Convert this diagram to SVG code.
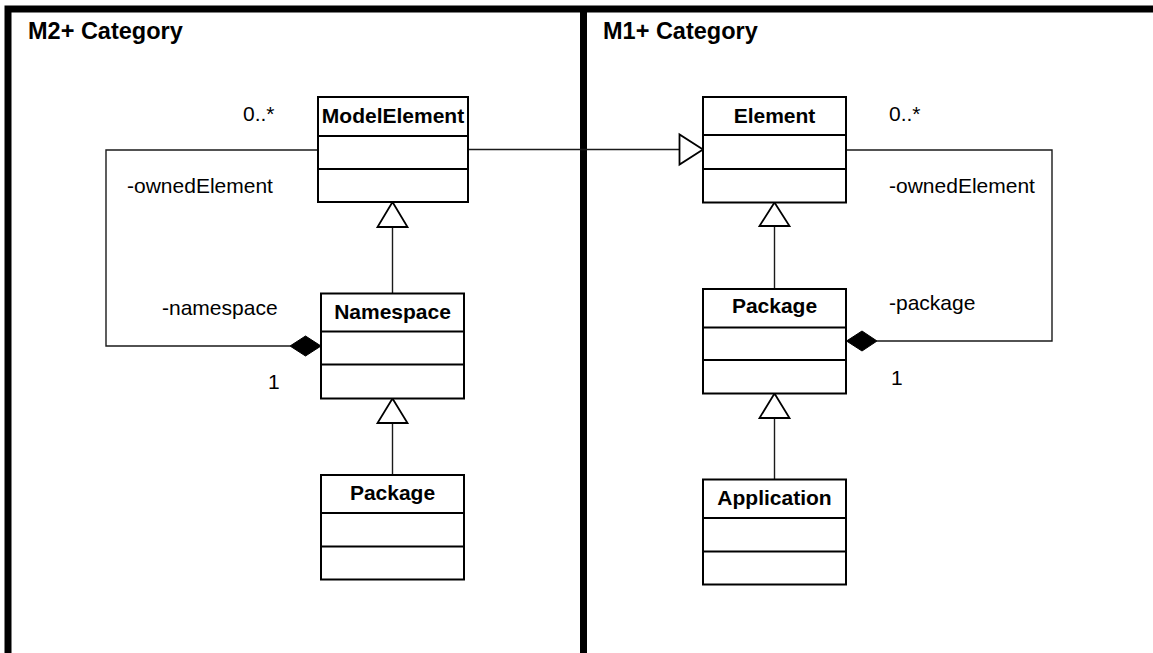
<svg xmlns="http://www.w3.org/2000/svg" width="1153" height="653" viewBox="0 0 1153 653">
  <style>
    .frame { fill: none; stroke: #000; stroke-width: 7; }
    .box { fill: #fff; stroke: #000; stroke-width: 2; }
    .sep { stroke: #000; stroke-width: 2; }
    .conn { fill: none; stroke: #1a1a1a; stroke-width: 1.4; }
    .tri { fill: #fff; stroke: #000; stroke-width: 1.8; }
    .dia { fill: #000; stroke: #000; stroke-width: 1; }
    .title { font-family: "Liberation Sans", Arial, sans-serif; font-weight: bold; font-size: 23.5px; fill: #000; }
    .name { font-family: "Liberation Sans", Arial, sans-serif; font-weight: bold; font-size: 21px; fill: #000; text-anchor: middle; }
    .lbl { font-family: "Liberation Sans", Arial, sans-serif; font-size: 21px; fill: #000; }
  </style>
  <rect width="1153" height="653" fill="#fff"/>

  <!-- category frames -->
  <g id="frames">
    <path class="frame" d="M8,653 V9 H1153"/>
    <line class="frame" x1="583.5" y1="9" x2="583.5" y2="653" stroke-width="6"/>
    <text class="title" x="28" y="39">M2+ Category</text>
    <text class="title" x="603" y="39">M1+ Category</text>
  </g>

  <!-- connectors -->
  <g id="connectors">
    <!-- ModelElement self-containment via Namespace -->
    <polyline class="conn" points="318,150 106,150 106,346 290,346"/>
    <polygon class="dia" points="290,346 305.5,336 321,346 305.5,356"/>
    <!-- Namespace -> ModelElement -->
    <line class="conn" x1="392.5" y1="227" x2="392.5" y2="293"/>
    <polygon class="tri" points="392.5,202 407.5,227 377.5,227"/>
    <!-- Package -> Namespace -->
    <line class="conn" x1="392.5" y1="423" x2="392.5" y2="475"/>
    <polygon class="tri" points="392.5,398.5 407.5,423 377.5,423"/>
    <!-- ModelElement -> Element -->
    <line class="conn" x1="468" y1="149.5" x2="679.5" y2="149.5"/>
    <polygon class="tri" points="703,149.5 679.5,134.5 679.5,164.5"/>
    <!-- Element self-containment via Package -->
    <polyline class="conn" points="846,150 1052,150 1052,341 877,341"/>
    <polygon class="dia" points="877,341 862,331 846.5,341 862,351"/>
    <!-- Package -> Element -->
    <line class="conn" x1="774.5" y1="226" x2="774.5" y2="289"/>
    <polygon class="tri" points="774.5,202.5 789.5,226 759.5,226"/>
    <!-- Application -> Package -->
    <line class="conn" x1="774.5" y1="418" x2="774.5" y2="479"/>
    <polygon class="tri" points="774.5,393.5 789.5,418 759.5,418"/>
  </g>

  <!-- association end labels -->
  <g id="labels">
    <text class="lbl" x="243" y="121">0..*</text>
    <text class="lbl" x="127" y="193">-ownedElement</text>
    <text class="lbl" x="162" y="315">-namespace</text>
    <text class="lbl" x="268" y="389">1</text>
    <text class="lbl" x="889" y="121">0..*</text>
    <text class="lbl" x="889" y="193">-ownedElement</text>
    <text class="lbl" x="889" y="310">-package</text>
    <text class="lbl" x="891" y="385">1</text>
  </g>

  <g id="ModelElement">
    <rect class="box" x="318" y="97" width="150" height="105"/>
    <line class="sep" x1="318" y1="136" x2="468" y2="136"/>
    <line class="sep" x1="318" y1="169" x2="468" y2="169"/>
    <text class="name" x="393" y="123">ModelElement</text>
  </g>

  <g id="Namespace">
    <rect class="box" x="321" y="293.5" width="143" height="105"/>
    <line class="sep" x1="321" y1="331.5" x2="464" y2="331.5"/>
    <line class="sep" x1="321" y1="364.5" x2="464" y2="364.5"/>
    <text class="name" x="392.5" y="319">Namespace</text>
  </g>

  <g id="Package-M2">
    <rect class="box" x="321" y="475" width="143" height="104.5"/>
    <line class="sep" x1="321" y1="513" x2="464" y2="513"/>
    <line class="sep" x1="321" y1="546.5" x2="464" y2="546.5"/>
    <text class="name" x="392.5" y="500">Package</text>
  </g>

  <g id="Element">
    <rect class="box" x="703" y="97" width="143" height="105.5"/>
    <line class="sep" x1="703" y1="135" x2="846" y2="135"/>
    <line class="sep" x1="703" y1="169" x2="846" y2="169"/>
    <text class="name" x="774.5" y="122.5">Element</text>
  </g>

  <g id="Package-M1">
    <rect class="box" x="703" y="289" width="143" height="104.5"/>
    <line class="sep" x1="703" y1="327.5" x2="846" y2="327.5"/>
    <line class="sep" x1="703" y1="360" x2="846" y2="360"/>
    <text class="name" x="774.5" y="313">Package</text>
  </g>

  <g id="Application">
    <rect class="box" x="703" y="479.5" width="143" height="105"/>
    <line class="sep" x1="703" y1="518" x2="846" y2="518"/>
    <line class="sep" x1="703" y1="551.5" x2="846" y2="551.5"/>
    <text class="name" x="774.5" y="505">Application</text>
  </g>
</svg>
